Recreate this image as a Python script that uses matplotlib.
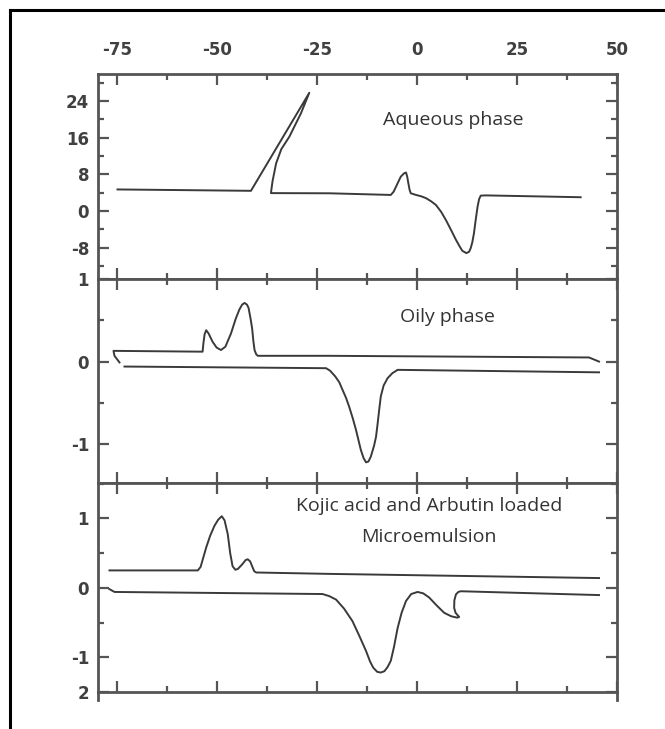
import numpy as np
import matplotlib
matplotlib.use('Agg')
import matplotlib.pyplot as plt
from matplotlib.lines import Line2D
from matplotlib.ticker import FixedLocator, MultipleLocator

# --- data ---
aq_x = [-75, -41.6, -27.0, -29.1, -32.0, -34.0, -35.3, -36.2, -36.6, -22, -6.6, -5.9, -5.3,
        -4.1, -3.3, -2.8, -2.5, -2.2, -1.9, -1.6, -0.3, 1.0, 2.2, 3.5, 4.7, 6.0, 7.2, 8.5,
        9.7, 10.6, 11.3, 12.3, 13.0, 13.4, 13.8, 14.2, 14.6, 15.1, 15.5, 15.9, 17.2, 40.9]
aq_y = [4.7, 4.4, 25.8, 21.3, 16.2, 13.5, 10.4, 6.5, 3.9, 3.86, 3.5, 4.2, 5.3,
        7.5, 8.2, 8.4, 7.5, 6.0, 4.6, 3.86, 3.5, 3.2, 2.8, 2.1, 1.3, -0.2, -2.0, -4.2,
        -6.3, -7.7, -8.7, -9.2, -8.9, -8.1, -6.8, -4.9, -2.2, 0.9, 2.6, 3.35, 3.4, 3.0]

oil_up_x = [-74.5, -75.75, -76.0, -53.7, -53.5, -53.2, -52.8, -52.2, -51.2, -50.2, -49.1,
            -48.0, -46.6, -45.4, -44.5, -43.8, -43.2, -42.6, -42.2, -41.7, -41.3, -41.0,
            -40.7, -40.3, -39.9, -22, 43, 45.5]
oil_up_y = [-0.01, 0.07, 0.13, 0.12, 0.22, 0.33, 0.38, 0.34, 0.24, 0.17, 0.14,
            0.18, 0.34, 0.52, 0.63, 0.69, 0.71, 0.69, 0.65, 0.52, 0.40, 0.25,
            0.14, 0.09, 0.07, 0.07, 0.05, 0.0]
oil_lo_x = [-73.25, -22.8, -21.8, -20.5, -19.5, -18.7, -17.8, -17.0, -16.1, -15.3, -14.6,
            -14.1, -13.4, -12.8, -12.2, -11.6, -10.8, -10.3, -9.9, -9.5, -9.1, -8.4, -7.4,
            -6.2, -4.9, 45.5]
oil_lo_y = [-0.06, -0.08, -0.11, -0.18, -0.25, -0.34, -0.44, -0.55, -0.69, -0.83, -0.97,
            -1.07, -1.17, -1.22, -1.21, -1.15, -1.02, -0.91, -0.75, -0.58, -0.42, -0.29, -0.2,
            -0.14, -0.10, -0.13]

me_up_x = [-77, -54.9, -54.2, -53.8, -52.8, -51.8, -50.75, -49.8, -48.9, -48.2, -47.4, -46.8,
           -46.2, -45.5, -44.9, -43.9, -42.9, -42.4, -41.8, -41.3, -40.8, -40.3, -22, 45.5]
me_up_y = [0.25, 0.25, 0.30, 0.38, 0.58, 0.75, 0.89, 0.98, 1.03, 0.97, 0.77, 0.50,
           0.31, 0.26, 0.27, 0.33, 0.40, 0.41, 0.38, 0.31, 0.24, 0.22, 0.20, 0.14]
me_lo_x = [-77, -75.75, -23.7, -22.0, -20.3, -18.3, -16.2, -14.5, -12.8, -11.8, -11.0, -10.0,
           -9.1, -8.2, -7.4, -6.6, -5.8, -4.9, -3.9, -2.8, -1.5, 0.1, 1.5, 3.0, 4.8, 6.75,
           8.5, 10.0, 10.5, 9.6, 9.25, 9.3, 9.7, 10.3, 10.9, 45.5]
me_lo_y = [-0.02, -0.06, -0.09, -0.12, -0.17, -0.30, -0.48, -0.69, -0.91, -1.06, -1.15, -1.21,
           -1.22, -1.20, -1.14, -1.05, -0.85, -0.58, -0.36, -0.19, -0.09, -0.06, -0.08, -0.14,
           -0.25, -0.36, -0.41, -0.43, -0.42, -0.36, -0.29, -0.18, -0.095, -0.06, -0.05, -0.105]

x_ticks = [-75, -50, -25, 0, 25, 50]
x_labels = ['-75', '-50', '-25', '0', '25', '50']

panel_yticks = [[24, 16, 8, 0, -8], [1, 0, -1], [1, 0, -1, -1.5]]
panel_ylabels = [['24', '16', '8', '0', '-8'], ['1', '0', '-1'], ['1', '0', '-1', '2']]
panel_yminor = [4, 0.5, 0.5]
panel_ylim = [(-14.85, 29.9), (-1.47, 1.0), (-1.5, 1.508)]
panel_text = ['Aqueous phase', 'Oily phase', 'Kojic acid and Arbutin loaded\nMicroemulsion']
text_pos = [(9.0, 19.9), (7.5, 0.54), (3.0, 0.95)]

W, H = 665, 729
fig = plt.figure(figsize=(W / 100, H / 100), dpi=100)

spine_c = '#555555'
line_c = '#3a3a3a'
left, right = 97.5 / W, 617 / W
bounds = [(74, 279), (279, 483), (483, 692)]

axes = []
for i, (t, b) in enumerate(bounds):
    ax = fig.add_axes([left, 1 - b / H, right - left, (b - t) / H])
    axes.append(ax)
    ax.set_xlim(-80, 50)
    ax.set_ylim(*panel_ylim[i])
    ax.xaxis.set_major_locator(FixedLocator(x_ticks))
    ax.xaxis.set_minor_locator(MultipleLocator(12.5))
    ax.set_yticks(panel_yticks[i])
    ax.set_yticklabels(panel_ylabels[i])
    ax.yaxis.set_minor_locator(MultipleLocator(panel_yminor[i]))
    ax.tick_params(which='both', direction='in', top=True, right=True,
                   color=spine_c, width=1.6, labelsize=12, labelcolor='#404040')
    ax.tick_params(which='major', length=8, pad=6)
    ax.tick_params(which='minor', length=4)
    ax.tick_params(axis='x', labelbottom=False)
    for s in ax.spines.values():
        s.set_color(spine_c)
        s.set_linewidth(2.0)
    for lab in ax.get_yticklabels():
        lab.set_fontweight('bold')
    ax.text(text_pos[i][0], text_pos[i][1], panel_text[i], ha='center', va='center',
            fontsize=14, family='Open Sans', color='#333333', linespacing=1.9)

ax1, ax2, ax3 = axes
ax1.tick_params(axis='x', labeltop=True, pad=11)
ax1.set_xticklabels(x_labels)
for lab in ax1.get_xticklabels():
    lab.set_fontweight('bold')

ax1.plot(aq_x, aq_y, color=line_c, lw=1.4)
ax2.plot(oil_up_x, oil_up_y, color=line_c, lw=1.4)
ax2.plot(oil_lo_x, oil_lo_y, color=line_c, lw=1.4)
ax3.plot(me_up_x, me_up_y, color=line_c, lw=1.4)
ax3.plot(me_lo_x, me_lo_y, color=line_c, lw=1.4)

# short spine extensions below the last panel
for xp in (left, right):
    fig.add_artist(Line2D([xp, xp], [1 - 692 / H, 1 - 700 / H], color=spine_c, lw=2.0))

# outer frame (top and left edges)
fig.add_artist(Line2D([10 / W, 663 / W], [1 - 10 / H, 1 - 10 / H], color='black', lw=2.2))
fig.add_artist(Line2D([10 / W, 10 / W], [1 - 10 / H, 0], color='black', lw=2.2))

fig.savefig('out.png', dpi=100)
